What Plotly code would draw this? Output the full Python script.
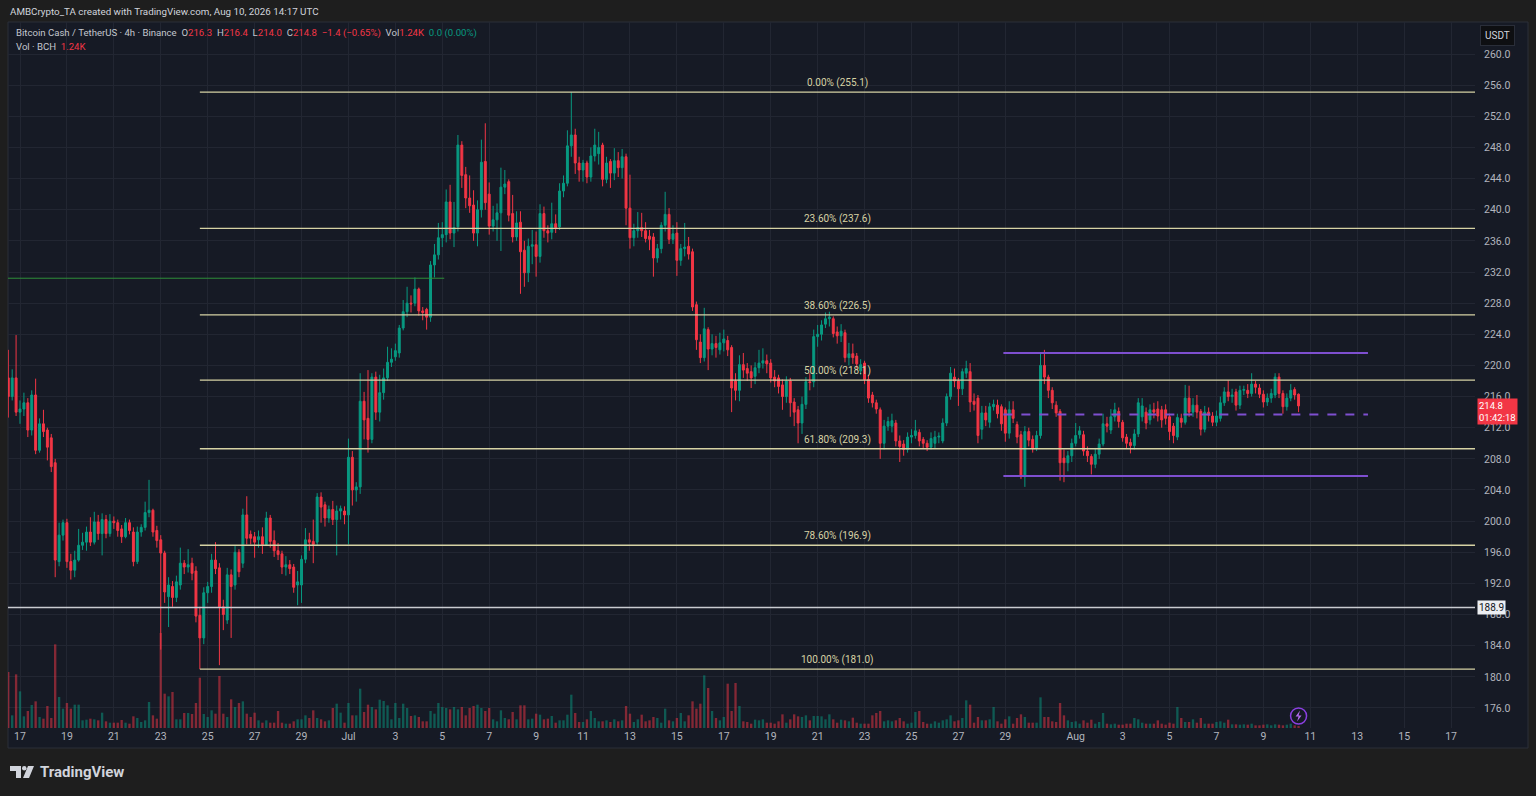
import pandas as pd
import plotly.graph_objects as go

# BCH/USDT 4h candles (Binance), first bar opens 16 Jun 2026 12:00 UTC
first_bar = "2026-06-16 12:00"

opens = [
    218.4, 216.0, 218.4, 214.0, 214.4, 215.2, 211.7, 216.2, 209.1, 212.5,
    211.7, 210.7, 207.5, 194.8, 198.2, 199.8, 194.8, 193.7, 195.0, 196.9,
    197.3, 198.6, 197.3, 199.9, 198.4, 200.2, 198.4, 200.0, 199.8, 199.0,
    198.0, 199.8, 198.6, 194.8, 198.6, 199.2, 201.1, 201.4, 198.8, 197.6,
    195.9, 190.3, 191.6, 190.2, 191.8, 194.6, 194.1, 194.6, 193.6, 187.9,
    185.0, 190.8, 191.6, 195.0, 194.0, 189.0, 187.3, 193.1, 191.8, 196.0,
    194.6, 200.8, 198.3, 198.0, 197.6, 198.0, 197.0, 200.4, 197.5, 196.2,
    195.8, 194.1, 194.4, 194.1, 191.8, 191.8, 195.1, 197.6, 197.4, 197.3,
    203.1, 202.1, 200.4, 201.5, 200.2, 201.3, 201.3, 200.8, 208.2, 204.0,
    204.4, 215.4, 213.2, 210.5, 218.5, 214.0, 216.5, 218.4, 220.4, 221.1,
    221.6, 224.8, 226.9, 228.0, 228.0, 229.8, 227.0, 227.2, 226.2, 232.9,
    234.2, 236.4, 236.8, 241.0, 237.0, 237.8, 248.3, 244.5,
    241.5, 240.6, 237.0, 240.0, 246.2, 242.0, 237.9, 238.7, 239.6, 242.9, 243.6, 239.5,
    236.5, 238.4, 234.8, 231.9, 235.3, 235.5, 234.0, 239.5, 237.3, 237.1,
    238.2, 237.8, 242.4, 243.4, 248.2, 249.6, 246.0, 245.1, 246.0, 244.2,
    246.9, 247.2, 248.3, 243.9, 246.2, 244.7, 246.3, 245.4, 246.8, 240.2,
    236.4, 237.3, 237.7, 237.3, 236.6, 236.5, 233.8, 235.0, 238.0, 239.4,
    236.2, 237.0, 233.5, 235.0, 235.3, 234.6, 227.8, 223.0, 221.0, 224.6, 222.1, 222.8,
    222.0, 222.9, 223.2, 222.3, 218.0, 216.8, 220.1, 219.6,
    219.2, 218.6, 219.7, 220.3, 220.6, 220.3, 218.5, 218.4, 217.5, 216.0,
    218.0, 215.3, 214.3, 212.6, 215.0, 217.9, 217.9, 223.7, 224.0, 225.3,
    226.0, 226.0, 224.3, 223.8, 224.2, 221.0, 221.5, 221.2, 219.3, 220.3,
    218.2, 216.2, 215.2, 214.3, 210.0, 212.2, 212.2, 212.6, 210.3, 209.9,
    209.2, 210.8, 211.0, 211.4, 210.5, 210.0, 209.5, 210.0, 210.8, 210.3,
    212.6, 216.0, 218.5, 218.0, 217.0, 219.0, 219.2, 215.4, 215.8, 211.8,
    213.9, 212.7, 214.7, 214.9, 214.7, 214.3, 211.3, 214.3, 212.4, 211.1,
    205.7, 211.5, 210.5, 209.4, 211.0, 220.0, 218.5, 216.8, 214.9, 214.1,
    208.1, 207.5, 208.4, 210.0, 211.1, 211.1, 209.0, 208.3, 207.3, 208.6,
    209.9, 212.5, 211.7, 213.4, 214.1, 212.7, 210.8, 210.1, 209.7, 211.2,
    213.4, 214.0, 213.0, 214.3, 214.4, 214.3, 214.3, 213.4, 212.2, 210.8,
    213.2, 212.7, 215.8, 214.0, 214.9, 214.1, 211.8, 214.0, 213.5, 212.7,
    213.2, 215.2, 216.6, 216.0, 216.6, 214.9, 216.8, 216.8, 216.4, 217.6,
    217.1, 216.3, 215.3, 215.8, 216.2, 218.5, 216.4, 214.7, 215.8, 216.9, 216.3,
]
highs = [
    222.0, 219.5, 223.9, 215.5, 216.5, 215.8, 216.8, 218.3, 213.2, 214.3,
    212.0, 211.2, 208.0, 199.8, 200.2, 200.3, 195.8, 196.2, 199.0, 198.5,
    199.3, 200.5, 201.2, 200.8, 201.0, 200.8, 200.9, 200.6, 200.2, 199.5,
    200.4, 200.2, 199.2, 199.3, 199.6, 202.5, 205.3, 201.6, 199.4, 198.2,
    196.2, 192.8, 192.3, 193.0, 196.6, 195.0, 196.4, 195.3, 194.2, 189.0,
    191.5, 192.2, 195.8, 197.3, 194.6, 189.9, 194.0, 193.8, 196.8, 196.4,
    201.6, 203.2, 198.8, 198.6, 198.8, 199.2, 201.2, 200.8, 198.8, 197.2,
    196.2, 195.5, 195.0, 194.5, 193.6, 195.6, 199.1, 198.5, 200.2, 203.6,
    203.7, 202.5, 202.0, 202.6, 202.0, 202.0, 201.9, 210.6, 209.0, 205.0,
    219.0, 216.6, 219.4, 219.0, 219.2, 218.8, 219.6, 222.4, 222.2, 222.8,
    225.2, 228.4, 230.1, 229.0, 231.3, 230.0, 227.5, 227.4, 233.4, 235.6,
    238.3, 238.4, 242.6, 243.2, 241.0, 249.6, 248.8, 245.5,
    244.4, 242.5, 241.2, 249.0, 251.1, 243.5, 240.5, 240.8, 245.4, 245.1, 243.9, 241.9,
    239.8, 239.8, 236.0, 236.3, 237.4, 237.2, 240.7, 240.4, 238.0, 240.9,
    239.4, 243.4, 244.4, 250.2, 255.1, 250.4, 246.8, 246.4, 246.3, 248.0,
    250.4, 250.0, 248.6, 246.8, 246.5, 247.9, 247.4, 247.8, 247.2, 244.5,
    238.2, 239.7, 239.6, 238.4, 237.4, 237.0, 235.6, 238.4, 242.3, 240.2,
    238.0, 238.4, 235.6, 238.3, 236.5, 235.0, 228.2, 224.0, 227.4, 224.9, 224.0, 223.8,
    224.2, 224.6, 223.8, 222.6, 219.0, 221.3, 221.6, 220.3,
    220.0, 220.4, 222.0, 222.2, 221.4, 220.8, 219.4, 218.8, 218.2, 218.6,
    218.4, 215.8, 214.8, 216.0, 218.5, 219.0, 224.6, 225.2, 225.8, 226.8,
    226.9, 226.3, 225.0, 225.3, 224.6, 222.9, 222.8, 221.6, 220.8, 220.6,
    218.8, 216.6, 215.6, 214.6, 213.0, 213.4, 213.8, 213.0, 211.0, 210.4,
    211.4, 211.8, 213.0, 211.8, 210.8, 210.4, 211.4, 211.6, 211.4, 213.2,
    216.4, 219.8, 219.6, 218.4, 219.6, 220.6, 220.3, 216.4, 216.2, 214.8,
    214.8, 215.2, 215.6, 215.6, 215.0, 214.6, 215.4, 215.4, 212.8, 211.6,
    212.2, 212.0, 211.0, 211.6, 221.6, 222.0, 218.8, 217.2, 215.4, 214.4,
    209.2, 209.0, 210.6, 212.6, 212.2, 211.6, 209.6, 208.6, 209.4, 210.6,
    213.8, 213.4, 214.4, 215.2, 214.6, 213.0, 211.2, 210.6, 211.8, 215.8,
    215.8, 214.6, 215.0, 215.2, 215.4, 214.8, 215.0, 213.8, 212.6, 213.8,
    213.8, 217.5, 217.4, 215.8, 216.2, 214.4, 214.8, 214.6, 214.0, 214.2,
    216.0, 217.2, 218.1, 217.0, 217.0, 217.4, 217.4, 217.6, 219.0, 218.0,
    217.6, 216.8, 216.4, 217.0, 219.0, 219.0, 216.8, 216.4, 217.6, 217.2, 216.4,
]
lows = [
    213.3, 215.5, 213.5, 212.5, 213.5, 210.8, 211.0, 208.6, 208.8, 210.8,
    207.8, 206.3, 192.8, 194.2, 197.5, 194.0, 192.5, 192.8, 194.8, 196.3,
    196.2, 196.8, 197.0, 197.6, 195.6, 197.8, 198.0, 199.0, 198.0, 197.2,
    197.8, 198.3, 194.2, 194.5, 198.0, 198.8, 200.5, 198.0, 196.6, 183.5,
    189.5, 186.4, 189.0, 189.6, 191.2, 193.2, 193.4, 192.4, 187.0, 181.0,
    184.2, 189.5, 190.8, 193.2, 181.5, 186.0, 186.8, 185.0, 191.2, 192.8,
    194.0, 197.0, 197.0, 195.3, 196.6, 195.8, 196.8, 196.6, 195.4, 195.0,
    193.2, 193.0, 193.2, 190.8, 189.2, 189.5, 194.6, 196.2, 194.6, 196.8,
    199.8, 199.3, 199.8, 199.5, 195.6, 200.2, 199.6, 197.0, 202.0, 202.5,
    203.5, 210.5, 208.8, 210.0, 213.0, 212.8, 215.6, 218.0, 219.8, 220.6,
    221.0, 224.5, 226.2, 226.8, 227.6, 226.4, 225.8, 224.6, 225.6, 231.3,
    233.6, 235.2, 235.8, 236.2, 235.2, 237.2, 242.8, 240.2,
    239.6, 236.0, 235.3, 239.0, 240.0, 236.8, 237.2, 236.0, 234.7, 242.0, 238.5, 235.8,
    236.0, 229.2, 230.1, 230.7, 233.0, 231.4, 233.2, 236.4, 235.8, 236.2,
    237.0, 237.4, 241.6, 243.0, 246.8, 244.6, 243.6, 243.6, 243.4, 243.6,
    246.2, 245.8, 243.0, 243.4, 242.8, 243.8, 244.2, 244.0, 238.0, 235.0,
    235.3, 236.4, 236.5, 235.8, 234.8, 231.4, 233.2, 234.4, 237.2, 235.6,
    235.6, 231.5, 232.8, 234.0, 233.6, 227.0, 222.0, 220.3, 220.5, 219.4, 221.3, 221.0,
    221.4, 221.8, 221.2, 214.0, 215.5, 215.4, 218.4, 218.0,
    217.1, 217.6, 219.0, 219.6, 219.0, 217.8, 217.2, 216.4, 214.3, 215.2,
    213.4, 212.2, 210.0, 211.2, 214.4, 216.8, 217.2, 222.4, 223.2, 224.8,
    225.0, 223.6, 222.8, 223.0, 220.4, 220.0, 220.2, 219.6, 218.8, 217.6,
    215.2, 214.6, 213.8, 208.0, 209.2, 211.6, 211.4, 209.6, 207.6, 208.4,
    208.8, 210.0, 210.6, 209.6, 209.4, 209.0, 209.2, 209.4, 210.0, 210.0,
    212.2, 215.6, 217.2, 214.8, 216.2, 218.4, 214.0, 214.2, 210.0, 210.5,
    212.2, 212.0, 214.2, 213.2, 211.6, 210.2, 210.6, 212.6, 210.0, 205.4,
    204.4, 209.6, 208.8, 209.0, 210.6, 217.6, 215.8, 214.4, 213.4, 205.2,
    205.0, 206.4, 207.6, 209.6, 210.6, 208.4, 207.6, 206.0, 206.8, 208.0,
    209.6, 211.4, 211.2, 212.8, 212.0, 210.2, 209.4, 208.7, 209.2, 210.8,
    212.8, 211.8, 212.4, 213.2, 212.8, 212.0, 212.4, 210.4, 210.0, 210.4,
    212.0, 212.4, 213.4, 213.4, 213.2, 211.0, 211.4, 212.8, 212.2, 212.2,
    212.8, 214.8, 215.4, 215.2, 214.2, 214.4, 216.2, 215.8, 216.0, 216.4,
    215.8, 214.6, 214.8, 215.2, 215.8, 215.8, 213.8, 214.2, 215.4, 215.6, 214.0,
]
closes = [
    216.0, 218.4, 214.0, 214.4, 215.2, 211.7, 216.2, 209.1, 212.5, 211.5,
    209.5, 207.0, 195.0, 198.2, 199.8, 194.8, 193.7, 195.0, 196.9, 197.3,
    198.6, 197.3, 199.9, 198.4, 200.2, 198.4, 200.0, 199.8, 198.8, 198.0,
    199.8, 198.8, 194.8, 198.6, 199.2, 201.1, 201.4, 198.6, 197.5, 195.9,
    190.9, 191.8, 190.2, 192.2, 194.6, 194.1, 194.4, 193.3, 187.8, 185.0,
    190.8, 191.6, 195.0, 193.9, 189.0, 188.0, 193.1, 191.6, 196.0, 193.5,
    200.8, 197.8, 197.8, 197.3, 198.0, 197.0, 200.4, 197.4, 196.2, 195.7,
    194.1, 194.4, 193.9, 191.5, 192.2, 195.1, 197.6, 197.3, 197.0, 203.1,
    201.8, 200.4, 201.5, 200.2, 201.3, 201.6, 200.8, 208.2, 204.0, 204.4,
    215.4, 213.0, 210.5, 218.5, 214.0, 216.5, 218.4, 220.4, 220.8, 221.9,
    224.8, 226.9, 228.0, 227.9, 229.8, 227.0, 226.8, 226.2, 232.9, 234.2,
    236.4, 236.8, 241.0, 237.0, 237.7, 248.3, 244.4, 241.5,
    240.5, 237.0, 240.0, 246.1, 240.9, 237.9, 238.7, 239.6, 242.9, 243.3, 239.3, 236.5,
    238.3, 234.6, 231.9, 235.3, 235.5, 234.0, 239.5, 237.3, 237.0, 238.2,
    237.7, 242.4, 243.4, 248.2, 249.6, 246.0, 245.1, 246.0, 244.2, 246.9,
    248.3, 248.0, 243.9, 246.0, 244.7, 246.3, 245.4, 246.8, 240.2, 236.4,
    237.3, 237.7, 237.3, 236.3, 236.2, 233.8, 235.0, 238.0, 239.4, 236.2,
    236.9, 233.5, 235.0, 235.2, 234.3, 227.5, 223.3, 221.0, 224.7, 222.1, 222.8, 222.3,
    222.9, 223.4, 222.0, 217.1, 216.8, 220.1, 219.4, 219.0,
    218.4, 219.7, 220.3, 220.6, 220.2, 218.4, 218.0, 217.3, 216.0, 218.0,
    215.2, 214.0, 212.6, 215.0, 217.9, 217.8, 223.7, 224.0, 225.2, 226.0,
    226.2, 224.1, 223.8, 224.4, 221.0, 221.5, 221.0, 220.2, 220.1, 218.2,
    215.8, 215.2, 214.4, 210.0, 212.2, 212.8, 212.9, 210.3, 209.6, 209.2,
    210.8, 211.0, 211.6, 210.3, 210.0, 209.5, 210.6, 210.8, 210.9, 212.6,
    216.0, 219.0, 218.0, 217.0, 219.2, 219.6, 215.3, 215.0, 211.0, 213.9,
    213.0, 214.7, 215.0, 213.8, 212.5, 211.3, 214.3, 213.2, 210.8, 205.7,
    211.5, 210.4, 209.4, 211.0, 220.0, 218.5, 216.8, 215.2, 213.9, 207.5,
    207.5, 208.4, 210.0, 211.0, 211.6, 209.0, 208.4, 207.3, 208.6, 209.9,
    212.5, 212.2, 213.4, 214.3, 212.8, 210.7, 210.0, 209.7, 211.2, 215.2,
    214.8, 212.6, 214.3, 214.0, 213.5, 213.0, 213.2, 211.5, 211.0, 213.3,
    212.7, 215.8, 214.0, 214.9, 214.0, 211.8, 214.0, 213.6, 212.7, 213.5,
    215.2, 216.6, 216.0, 216.2, 214.9, 216.8, 216.9, 216.4, 217.6, 217.2,
    216.3, 215.3, 215.8, 216.4, 218.5, 216.4, 214.7, 215.8, 216.8, 216.2, 214.8,
]
# volume in thousands of BCH
volumes = [
    33.6, 7.6, 32.2, 22.0, 7.0, 10.2, 13.8, 16.0, 6.6, 5.6,
    13.2, 6.0, 50.2, 18.6, 11.6, 15.0, 11.6, 14.0, 14.0, 4.6,
    5.0, 5.6, 5.2, 4.6, 9.2, 4.0, 3.2, 3.2, 3.2, 4.8,
    3.2, 2.6, 7.0, 6.0, 3.6, 4.6, 15.6, 7.6, 5.6, 57.0,
    20.6, 19.0, 21.6, 5.2, 5.2, 9.0, 9.0, 8.4, 15.0, 30.2,
    8.4, 6.6, 10.6, 8.6, 31.2, 8.6, 6.6, 17.2, 12.6, 15.0,
    16.0, 8.6, 6.6, 9.2, 4.6, 3.2, 4.6, 3.2, 3.2, 10.2,
    3.2, 2.6, 2.6, 4.0, 5.2, 5.2, 7.6, 6.0, 10.6, 6.0,
    5.2, 4.0, 4.6, 12.0, 14.6, 9.2, 3.2, 15.0, 7.6, 7.6,
    23.6, 9.6, 14.0, 12.6, 11.2, 17.0, 16.2, 13.6, 5.2, 15.0,
    6.0, 14.6, 12.0, 7.2, 7.6, 6.6, 4.0, 4.0, 10.2, 8.6,
    15.0, 12.6, 12.0, 11.2, 12.6, 11.2, 12.6, 7.6, 12.0, 13.2,
    14.0, 12.0, 10.2, 12.0, 5.2, 4.0, 10.6, 6.0, 5.2, 9.6,
    5.2, 13.6, 13.6, 5.2, 5.6, 8.6, 8.0, 5.2, 5.6, 7.2,
    3.2, 4.6, 4.6, 8.0, 20.0, 9.0, 3.6, 3.6, 5.2, 10.2,
    6.0, 4.0, 4.0, 4.6, 3.6, 5.2, 4.0, 4.6, 13.2, 8.6,
    3.6, 5.2, 8.0, 4.0, 4.6, 6.6, 6.0, 3.2, 11.6, 4.6,
    4.0, 6.0, 9.0, 4.0, 7.6, 16.0, 11.6, 14.6, 31.6, 24.0,
    10.2, 6.0, 4.6, 6.6, 26.6, 10.2, 27.0, 13.2, 4.0, 3.6,
    2.6, 5.0, 4.6, 5.2, 3.2, 3.2, 2.6, 4.0, 8.2, 3.2,
    5.2, 8.2, 7.0, 6.6, 7.6, 4.6, 7.2, 7.2, 7.0, 5.2,
    8.2, 5.2, 3.2, 5.0, 4.6, 4.0, 6.2, 3.2, 2.6, 2.6,
    2.6, 7.6, 9.0, 10.2, 4.0, 4.6, 4.0, 4.6, 6.0, 4.0,
    2.6, 3.2, 9.6, 10.2, 3.6, 2.6, 2.6, 4.0, 3.2, 4.6,
    5.2, 7.6, 4.0, 4.6, 6.0, 16.6, 14.0, 3.2, 6.6, 4.6,
    4.6, 5.2, 12.6, 4.0, 2.6, 5.2, 7.0, 2.6, 6.0, 8.2,
    6.6, 3.2, 3.2, 3.2, 18.4, 6.6, 6.6, 4.0, 3.6, 15.0,
    7.6, 4.6, 3.6, 4.0, 2.6, 4.6, 3.2, 5.0, 2.6, 3.6,
    9.0, 2.6, 2.2, 2.6, 2.0, 2.0, 2.6, 2.6, 6.0, 5.2,
    3.2, 2.6, 2.6, 2.6, 4.6, 2.6, 2.0, 3.2, 2.6, 12.6,
    6.0, 3.6, 3.6, 5.2, 3.2, 6.0, 2.6, 2.6, 2.6, 3.6,
    4.0, 3.2, 5.0, 2.2, 2.2, 2.0, 2.2, 2.0, 2.6, 1.6,
    1.6, 2.0, 2.2, 1.6, 2.2, 2.0, 1.6, 2.0, 2.6, 1.6, 1.24,
]

# Fibonacci retracement drawn from the 24 Jun low to the 10 Jul high
fib_names = ["0.00%", "23.60%", "38.60%", "50.00%", "61.80%", "78.60%", "100.00%"]
fib_levels = [255.1, 237.6, 226.5, 218.1, 209.3, 196.9, 181.0]
fib_start = "2026-06-24 16:00"

support_level = 188.9
old_level = 231.2
old_level_end = "2026-07-05 02:00"

channel_top = 221.6
channel_mid = 213.7
channel_bottom = 205.8
channel_start = "2026-07-28 22:00"
channel_end = "2026-08-13 11:00"

price_ticks = [176, 180, 184, 188, 192, 196, 200, 204, 208, 212, 216, 220,
               224, 228, 232, 236, 240, 244, 248, 252, 256, 260]
date_ticks = ["2026-06-17", "2026-06-19", "2026-06-21", "2026-06-23", "2026-06-25",
              "2026-06-27", "2026-06-29", "2026-07-01", "2026-07-03", "2026-07-05",
              "2026-07-07", "2026-07-09", "2026-07-11", "2026-07-13", "2026-07-15",
              "2026-07-17", "2026-07-19", "2026-07-21", "2026-07-23", "2026-07-25",
              "2026-07-27", "2026-07-29", "2026-08-01", "2026-08-03", "2026-08-05",
              "2026-08-07", "2026-08-09", "2026-08-11", "2026-08-13", "2026-08-15",
              "2026-08-17"]
date_labels = ["17", "19", "21", "23", "25", "27", "29", "Jul", "3", "5", "7", "9",
               "11", "13", "15", "17", "19", "21", "23", "25", "27", "29", "Aug",
               "3", "5", "7", "9", "11", "13", "15", "17"]

n = len(closes)
assert len(opens) == len(highs) == len(lows) == len(volumes) == n
times = pd.date_range(first_bar, periods=n, freq="4h")

UP, DOWN = "#089981", "#f23645"
PANEL, OUTER, GRID = "#161a25", "#1e1e1e", "#222632"
FIB = "#d6d2a4"
PURPLE = "#7e4fd0"
TXT = "#b2b5be"

# layout geometry (plot area in page pixels)
L, R, T, B = 8, 1475, 22, 728
W, H = R - L, B - T
day0 = pd.Timestamp("2026-06-17")
px_per_day = 23.46


def px_date(px):
    return day0 + pd.Timedelta(days=(px - 20) / px_per_day)


def pxx(px):
    return (px - L) / W


def pxy(py):
    return (B - py) / H


x_range = [px_date(L), px_date(R)]
y_range = [173.43, 264.11]
vol_range = [0, H * 0.6]

vol_colors = ["rgba(8,153,129,0.5)" if c >= o else "rgba(242,54,69,0.5)"
              for o, c in zip(opens, closes)]

fig = go.Figure()
fig.add_trace(go.Bar(
    x=times, y=volumes, marker=dict(color=vol_colors, line=dict(width=0)),
    width=4 * 3600 * 1000 * 0.6, yaxis="y", hoverinfo="skip"
))
fig.add_trace(go.Candlestick(
    x=times, open=opens, high=highs, low=lows, close=closes, yaxis="y2",
    increasing=dict(line=dict(color=UP, width=1), fillcolor=UP),
    decreasing=dict(line=dict(color=DOWN, width=1), fillcolor=DOWN),
    whiskerwidth=0
))

shapes = []
# outer frame around the chart panel
for x0, x1, y0, y1 in [(-0.01, 1.05, 1.0, 1.04), (-0.01, 1.05, pxy(748), -0.1),
                       (-0.01, 0, -0.1, 1.04), (pxx(1528), 1.05, -0.1, 1.04)]:
    shapes.append(dict(type="rect", xref="paper", yref="paper", x0=x0, x1=x1, y0=y0, y1=y1,
                       fillcolor=OUTER, line=dict(width=0), layer="below"))
shapes.append(dict(type="rect", xref="paper", yref="paper", x0=0, x1=pxx(1528),
                   y0=pxy(748), y1=1, line=dict(color="#2a2e39", width=1), layer="below"))

for lv in fib_levels:
    shapes.append(dict(type="line", xref="x", yref="y2", x0=fib_start, x1=x_range[1],
                       y0=lv, y1=lv, line=dict(color=FIB, width=1.3)))
shapes.append(dict(type="line", xref="x", yref="y2", x0=x_range[0], x1=old_level_end,
                   y0=old_level, y1=old_level, line=dict(color="#2f8f3a", width=1)))
shapes.append(dict(type="line", xref="x", yref="y2", x0=x_range[0], x1=x_range[1],
                   y0=support_level, y1=support_level, line=dict(color="#c9cbd1", width=1.5)))
for lv, dash in [(channel_top, "solid"), (channel_bottom, "solid"), (channel_mid, "dash")]:
    shapes.append(dict(type="line", xref="x", yref="y2", x0=channel_start, x1=channel_end,
                       y0=lv, y1=lv, line=dict(color=PURPLE, width=2, dash=dash)))

# lightning badge at the last bar
badge_y = pxy(716)
shapes.append(dict(type="circle", xref="x", yref="paper", xsizemode="pixel", ysizemode="pixel",
                   xanchor=times[-1], yanchor=badge_y, x0=-8, x1=8, y0=-8, y1=8,
                   fillcolor=PANEL, line=dict(color="#8a3fe0", width=1.5)))
shapes.append(dict(type="path", xref="x", yref="paper", xsizemode="pixel", ysizemode="pixel",
                   xanchor=times[-1], yanchor=badge_y,
                   path="M 1.5 5.5 L -3 -0.5 L 0 -0.5 L -1.5 -5.5 L 3 0.5 L 0 0.5 Z",
                   fillcolor="#b56cf0", line=dict(width=0)))

# TradingView logo mark
shapes.append(dict(type="path", xref="paper", yref="paper",
                   path=f"M {pxx(10)} {pxy(766)} L {pxx(21)} {pxy(766)} L {pxx(21)} {pxy(778)} "
                        f"L {pxx(16)} {pxy(778)} L {pxx(16)} {pxy(771)} L {pxx(10)} {pxy(771)} Z",
                   fillcolor="#d1d4dc", line=dict(width=0)))
shapes.append(dict(type="circle", xref="paper", yref="paper", x0=pxx(22), x1=pxx(26.5),
                   y0=pxy(770.5), y1=pxy(766), fillcolor="#d1d4dc", line=dict(width=0)))
shapes.append(dict(type="path", xref="paper", yref="paper",
                   path=f"M {pxx(28)} {pxy(766)} L {pxx(34)} {pxy(766)} L {pxx(29)} {pxy(778)} "
                        f"L {pxx(23)} {pxy(778)} Z",
                   fillcolor="#d1d4dc", line=dict(width=0)))

ann = []
label_x = px_date(837)
for name, lv in zip(fib_names, fib_levels):
    ann.append(dict(x=label_x, y=lv, xref="x", yref="y2", text=f"{name} ({lv:.1f})",
                    showarrow=False, yanchor="bottom", yshift=1,
                    font=dict(size=10, color=FIB)))

RED = DOWN if closes[-1] < opens[-1] else UP
chg = closes[-1] - closes[-2]
pct = chg / closes[-2] * 100
sign = "−" if chg < 0 else "+"
nb = "\u00a0"


def col(v, c=RED):
    return f"<span style='color:{c}'>{v}</span>"


legend1 = (f"Bitcoin Cash / TetherUS · 4h · Binance{nb}{nb}"
           f"O{col(f'{opens[-1]:.1f}')}{nb}{nb}H{col(f'{highs[-1]:.1f}')}{nb}{nb}"
           f"L{col(f'{lows[-1]:.1f}')}{nb}{nb}C{col(f'{closes[-1]:.1f}')}{nb}{nb}"
           f"{col(f'{sign}{abs(chg):.1f} ({sign}{abs(pct):.2f}%)')}{nb}{nb}"
           f"Vol{col(f'{volumes[-1]:.2f}K')}{nb}{nb}{col('0.0 (0.00%)', UP)}")
legend2 = f"Vol · BCH{nb}{nb}{col(f'{volumes[-1]:.2f}K')}"

ann += [
    dict(x=0, y=pxy(11), xref="paper", yref="paper", xanchor="left", yanchor="middle",
         text="AMBCrypto_TA created with TradingView.com, Aug 10, 2026 14:17 UTC",
         showarrow=False, font=dict(size=9.8, color="#d1d4dc")),
    dict(x=pxx(14), y=pxy(33), xref="paper", yref="paper", xanchor="left", yanchor="middle",
         text=legend1, showarrow=False, font=dict(size=9.6, color="#c3c6ce")),
    dict(x=pxx(14), y=pxy(46), xref="paper", yref="paper", xanchor="left", yanchor="middle",
         text=legend2, showarrow=False, font=dict(size=9.6, color="#c3c6ce")),
    dict(x=pxx(1480), y=pxy(35), xref="paper", yref="paper", xanchor="left", yanchor="middle",
         text="USDT", showarrow=False, bgcolor="#0e0f12", bordercolor="#2a2e39",
         borderpad=4, font=dict(size=10, color="#d1d4dc")),
    dict(x=pxx(1477), y=closes[-1], xref="paper", yref="y2", xanchor="left", yanchor="top",
         yshift=8, text=f"{closes[-1]:.1f}<br>01:42:18", align="left", showarrow=False,
         bgcolor=DOWN, borderpad=1, font=dict(size=9.5, color="white")),
    dict(x=pxx(1477), y=support_level, xref="paper", yref="y2", xanchor="left",
         yanchor="middle", text=f"{support_level:.1f}", showarrow=False, bgcolor="#eceef2",
         borderpad=1, font=dict(size=10, color="#131722")),
    dict(x=pxx(38), y=pxy(772), xref="paper", yref="paper", xanchor="left", yanchor="middle",
         text="<b>TradingView</b>", showarrow=False, font=dict(size=15, color="#d1d4dc")),
]

fig.update_layout(
    width=1536, height=796,
    margin=dict(l=L, r=1536 - R, t=T, b=796 - B),
    paper_bgcolor=PANEL, plot_bgcolor=PANEL, showlegend=False,
    font=dict(family="Roboto, sans-serif", size=11, color=TXT),
    xaxis=dict(type="date", range=x_range, tickvals=date_ticks, ticktext=date_labels,
               showgrid=True, gridcolor=GRID, zeroline=False, showline=False, ticks="",
               rangeslider=dict(visible=False), tickfont=dict(size=10.5, color=TXT)),
    yaxis=dict(range=vol_range, visible=False),
    yaxis2=dict(overlaying="y", side="right", range=y_range, tickvals=price_ticks,
                ticktext=[f"{v:.1f}" for v in price_ticks], showgrid=True, gridcolor=GRID,
                zeroline=False, showline=False, ticks="", ticklabelstandoff=8,
                tickfont=dict(size=10.5, color=TXT)),
    shapes=shapes, annotations=ann,
)

fig.write_html("out.html", config={"displayModeBar": False},
               post_script="document.body.style.margin='0';document.body.style.background='#1e1e1e';")
